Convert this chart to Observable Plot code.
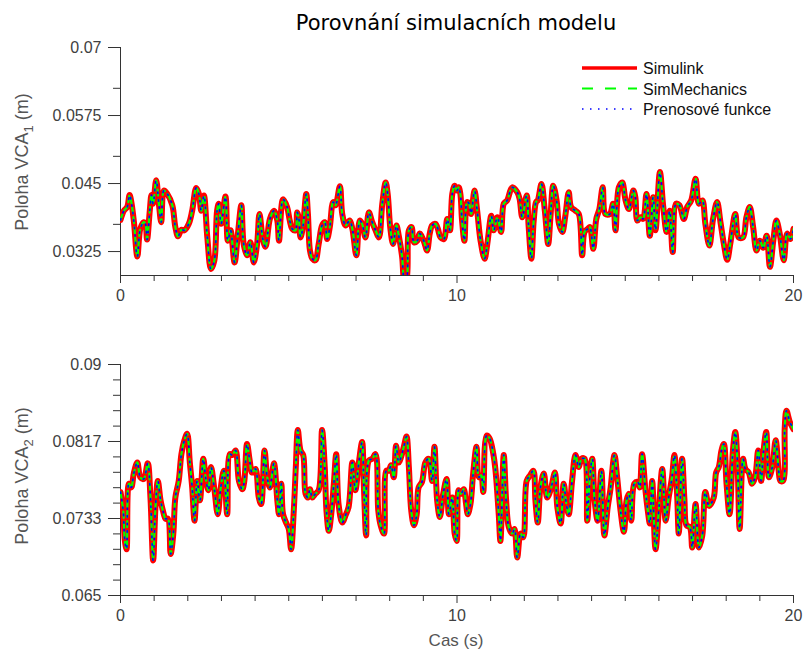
<!DOCTYPE html>
<html><head><meta charset="utf-8">
<script src="https://cdn.jsdelivr.net/npm/d3@7"></script>
<script src="https://cdn.jsdelivr.net/npm/@observablehq/plot@0.6"></script>
<style>
html,body{margin:0;padding:0;background:#fff;}
#wrap{position:relative;width:803px;height:653px;overflow:hidden;background:#fff;}
#wrap > svg{position:absolute;left:0;}
</style></head><body><div id="wrap"></div>
<script>
// ---- data -------------------------------------------------------------
const seriesNames = ["Simulink", "SimMechanics", "Prenosové funkce"];
const seriesColors = ["#ff0000", "#00ff00", "#0000ff"];

// VCA1 position (m) – the three models coincide
const timeTop = [0,0.10,0.20,0.27,0.33,0.40,0.50,0.59,0.69,0.74,0.79,0.87,0.92,0.97,1.06,1.14,1.21,1.29,1.39,1.54,1.63,1.71,1.81,1.90,2.03,2.13,2.25,2.33,2.40,2.48,2.58,2.69,2.79,2.87,2.92,2.99,3.12,3.19,3.27,3.39,3.49,3.59,3.66,3.76,3.86,3.96,4.06,4.13,4.23,4.31,4.44,4.56,4.66,4.71,4.83,4.95,5.03,5.10,5.20,5.25,5.30,5.35,5.42,5.52,5.57,5.63,5.70,5.79,5.89,5.99,6.07,6.14,6.22,6.32,6.39,6.52,6.59,6.69,6.81,6.89,7.01,7.11,7.18,7.28,7.38,7.48,7.58,7.68,7.78,7.88,7.94,8.02,8.10,8.20,8.27,8.37,8.44,8.50,8.57,8.65,8.72,8.82,8.89,9.01,9.11,9.19,9.26,9.36,9.43,9.51,9.61,9.71,9.79,9.86,9.93,10.00,10.05,10.10,10.15,10.22,10.30,10.36,10.42,10.52,10.60,10.70,10.82,10.90,11.02,11.09,11.20,11.31,11.39,11.49,11.64,11.79,11.86,11.94,12.07,12.13,12.21,12.28,12.35,12.40,12.51,12.61,12.71,12.78,12.86,12.96,13.03,13.13,13.22,13.32,13.39,13.52,13.62,13.72,13.79,13.89,13.95,14.05,14.14,14.23,14.33,14.41,14.54,14.64,14.71,14.81,14.91,15.01,15.11,15.24,15.30,15.36,15.45,15.53,15.63,15.73,15.83,15.90,16.03,16.13,16.23,16.32,16.41,16.51,16.61,16.74,16.84,16.96,17.09,17.19,17.29,17.38,17.50,17.61,17.73,17.83,17.93,18.03,18.12,18.27,18.37,18.50,18.60,18.70,18.80,18.90,19.00,19.10,19.20,19.30,19.40,19.49,19.59,19.71,19.81,19.91,20.00];
const vcaTop = [0.0383,0.0400,0.0407,0.0429,0.0413,0.0379,0.0316,0.0367,0.0379,0.0376,0.0347,0.0400,0.0429,0.0413,0.0456,0.0413,0.0379,0.0437,0.0431,0.0410,0.0370,0.0353,0.0365,0.0364,0.0376,0.0400,0.0442,0.0431,0.0400,0.0428,0.0351,0.0293,0.0309,0.0400,0.0413,0.0376,0.0426,0.0345,0.0364,0.0305,0.0358,0.0410,0.0339,0.0318,0.0342,0.0305,0.0339,0.0394,0.0348,0.0334,0.0385,0.0400,0.0382,0.0345,0.0421,0.0407,0.0382,0.0367,0.0364,0.0397,0.0385,0.0351,0.0370,0.0431,0.0394,0.0327,0.0312,0.0309,0.0339,0.0373,0.0379,0.0348,0.0370,0.0416,0.0410,0.0445,0.0394,0.0373,0.0382,0.0367,0.0318,0.0382,0.0376,0.0351,0.0397,0.0379,0.0364,0.0351,0.0413,0.0452,0.0431,0.0367,0.0339,0.0373,0.0354,0.0315,0.0272,0.0275,0.0364,0.0370,0.0342,0.0345,0.0358,0.0345,0.0327,0.0358,0.0373,0.0376,0.0367,0.0351,0.0348,0.0385,0.0364,0.0431,0.0446,0.0437,0.0443,0.0431,0.0382,0.0345,0.0416,0.0413,0.0394,0.0437,0.0400,0.0345,0.0312,0.0339,0.0391,0.0364,0.0388,0.0361,0.0413,0.0419,0.0443,0.0434,0.0422,0.0388,0.0428,0.0370,0.0312,0.0382,0.0416,0.0419,0.0449,0.0400,0.0339,0.0391,0.0446,0.0419,0.0376,0.0361,0.0391,0.0434,0.0407,0.0400,0.0394,0.0318,0.0361,0.0367,0.0370,0.0330,0.0385,0.0403,0.0443,0.0394,0.0394,0.0413,0.0364,0.0443,0.0452,0.0419,0.0403,0.0437,0.0425,0.0382,0.0388,0.0385,0.0431,0.0354,0.0425,0.0364,0.0471,0.0407,0.0361,0.0400,0.0324,0.0413,0.0410,0.0385,0.0407,0.0419,0.0459,0.0413,0.0419,0.0376,0.0336,0.0385,0.0416,0.0379,0.0339,0.0310,0.0339,0.0394,0.0351,0.0351,0.0388,0.0407,0.0370,0.0327,0.0345,0.0332,0.0354,0.0297,0.0345,0.0382,0.0358,0.0309,0.0358,0.0348,0.0367];

// VCA2 position (m)
const timeBottom = [0,0.08,0.13,0.18,0.25,0.32,0.40,0.50,0.59,0.69,0.81,0.89,0.97,1.04,1.11,1.19,1.26,1.34,1.41,1.49,1.57,1.63,1.73,1.81,1.90,1.98,2.06,2.13,2.20,2.28,2.36,2.46,2.53,2.61,2.69,2.79,2.89,2.97,3.07,3.17,3.25,3.32,3.42,3.52,3.62,3.68,3.76,3.84,3.91,4.01,4.11,4.18,4.28,4.36,4.44,4.56,4.66,4.71,4.78,4.83,4.93,5.00,5.07,5.15,5.21,5.27,5.35,5.43,5.50,5.57,5.63,5.70,5.79,5.89,5.99,6.07,6.12,6.19,6.26,6.34,6.41,6.48,6.59,6.69,6.78,6.89,6.98,7.08,7.18,7.23,7.30,7.38,7.48,7.58,7.66,7.73,7.83,7.90,7.97,8.04,8.12,8.19,8.27,8.34,8.42,8.50,8.57,8.64,8.72,8.80,8.86,8.96,9.06,9.16,9.26,9.33,9.41,9.49,9.59,9.69,9.76,9.86,9.93,9.99,10.05,10.12,10.20,10.27,10.32,10.40,10.48,10.58,10.65,10.72,10.78,10.88,10.97,11.08,11.14,11.24,11.29,11.39,11.46,11.54,11.64,11.71,11.79,11.89,11.97,12.07,12.17,12.27,12.33,12.40,12.48,12.58,12.68,12.78,12.91,12.98,13.08,13.17,13.25,13.32,13.42,13.52,13.62,13.70,13.79,13.87,13.95,14.02,14.09,14.18,14.29,14.38,14.48,14.56,14.68,14.76,14.86,14.96,15.04,15.11,15.18,15.27,15.37,15.43,15.50,15.60,15.67,15.73,15.80,15.90,16.00,16.10,16.20,16.29,16.39,16.46,16.54,16.59,16.69,16.76,16.82,16.92,16.99,17.09,17.19,17.29,17.38,17.49,17.63,17.70,17.78,17.86,17.93,18.01,18.10,18.20,18.27,18.34,18.40,18.50,18.57,18.67,18.77,18.86,18.95,19.04,19.10,19.19,19.27,19.37,19.47,19.56,19.61,19.69,19.74,19.79,19.89,20.00];
const vcaBottom = [0.0762,0.0742,0.0709,0.0700,0.0771,0.0767,0.0783,0.0794,0.0778,0.0776,0.0793,0.0756,0.0688,0.0746,0.0774,0.0753,0.0742,0.0733,0.0733,0.0695,0.0717,0.0756,0.0774,0.0803,0.0818,0.0825,0.0794,0.0767,0.0731,0.0774,0.0753,0.0798,0.0778,0.0764,0.0789,0.0765,0.0738,0.0764,0.0785,0.0738,0.0803,0.0802,0.0807,0.0774,0.0765,0.0774,0.0814,0.0796,0.0783,0.0787,0.0756,0.0749,0.0807,0.0778,0.0767,0.0793,0.0753,0.0738,0.0771,0.0738,0.0728,0.0722,0.0700,0.0742,0.0789,0.0829,0.0807,0.0802,0.0760,0.0756,0.0765,0.0756,0.0760,0.0764,0.0829,0.0789,0.0742,0.0720,0.0737,0.0771,0.0803,0.0749,0.0729,0.0737,0.0746,0.0794,0.0764,0.0793,0.0816,0.0771,0.0715,0.0796,0.0798,0.0803,0.0742,0.0726,0.0717,0.0785,0.0785,0.0791,0.0778,0.0812,0.0794,0.0800,0.0811,0.0822,0.0789,0.0742,0.0726,0.0737,0.0767,0.0773,0.0794,0.0798,0.0774,0.0811,0.0753,0.0735,0.0760,0.0776,0.0738,0.0756,0.0717,0.0709,0.0764,0.0760,0.0765,0.0749,0.0738,0.0749,0.0782,0.0811,0.0778,0.0780,0.0762,0.0823,0.0820,0.0803,0.0787,0.0738,0.0709,0.0802,0.0753,0.0724,0.0717,0.0722,0.0691,0.0717,0.0713,0.0774,0.0780,0.0785,0.0753,0.0729,0.0767,0.0782,0.0756,0.0764,0.0783,0.0746,0.0728,0.0771,0.0749,0.0738,0.0774,0.0802,0.0789,0.0798,0.0798,0.0731,0.0778,0.0798,0.0753,0.0731,0.0785,0.0715,0.0746,0.0765,0.0802,0.0778,0.0742,0.0719,0.0753,0.0760,0.0731,0.0771,0.0773,0.0767,0.0803,0.0764,0.0742,0.0728,0.0774,0.0700,0.0744,0.0787,0.0731,0.0756,0.0778,0.0802,0.0760,0.0717,0.0798,0.0753,0.0726,0.0724,0.0702,0.0749,0.0702,0.0715,0.0762,0.0747,0.0756,0.0783,0.0789,0.0807,0.0814,0.0771,0.0738,0.0807,0.0827,0.0789,0.0722,0.0798,0.0787,0.0783,0.0771,0.0778,0.0807,0.0774,0.0803,0.0827,0.0778,0.0789,0.0818,0.0785,0.0774,0.0774,0.0832,0.0850,0.0838,0.0830];

// axes
const xTicks = [0, 10, 20];
const xMinorTicks = [1,2,3,4,5,6,7,8,9,11,12,13,14,15,16,17,18,19];
const yDomainTop = [0.0281, 0.07];
const yTicksTop = [0.0325, 0.045, 0.0575, 0.07];
const yLabelsTop = ["0.0325", "0.045", "0.0575", "0.07"];
const yMinorTop = [0.0375, 0.05, 0.0625];
const yDomainBottom = [0.065, 0.09];
const yTicksBottom = [0.065, 0.073333, 0.081667, 0.09];
const yLabelsBottom = ["0.065", "0.0733", "0.0817", "0.09"];
const yMinorBottom = [0.066667, 0.068333, 0.07, 0.071667, 0.075, 0.076667, 0.078333, 0.08, 0.083333, 0.085, 0.086667, 0.088333];

const title = "Porovnání simulacních modelu";
const xLabel = "Cas (s)";

// ---- drawing ----------------------------------------------------------
const AX = "#333333", TXT = "#404040";
const lineStyles = [
  {strokeWidth: 6},
  {strokeWidth: 2.2, strokeDasharray: "6,4"},
  {strokeWidth: 1.6, strokeDasharray: "1.5,6"}
];

function panel(o) {
  const rows = o.time.map((t, i) => ({t, v: o.vals[i]}));
  return Plot.plot({
    width: 803, height: o.height,
    marginTop: o.mTop, marginBottom: o.mBottom, marginLeft: 120, marginRight: 10,
    style: {background: "transparent", fontFamily: "'Liberation Sans', Arial, sans-serif", fontSize: "16px", overflow: "visible"},
    x: {domain: [0, 20], label: null},
    y: {domain: o.yDomain, label: null},
    marks: [
      Plot.axisY({ticks: o.yMinor, tickSize: 7, tickFormat: () => "", stroke: AX, label: null}),
      Plot.axisY({ticks: o.yTicks, tickSize: 12, tickPadding: 7, tickFormat: d => o.yLabels[o.yTicks.indexOf(d)], stroke: AX, fill: TXT, fontSize: 16, label: null}),
      Plot.axisX({ticks: xMinorTicks, tickSize: 6, tickFormat: () => "", stroke: AX, label: null}),
      Plot.axisX({ticks: xTicks, tickSize: 8, tickPadding: 6, stroke: AX, fill: TXT, fontSize: 16, label: null}),
      Plot.ruleX([0], {stroke: AX}),
      Plot.ruleY([o.yDomain[0]], {stroke: AX}),
      ...seriesNames.map((s, k) => Plot.line(rows, {
        x: "t", y: "v", stroke: seriesColors[k], curve: "catmull-rom", clip: true, ...lineStyles[k]
      }))
    ]
  });
}

const wrap = document.getElementById("wrap");
const top1 = panel({time: timeTop, vals: vcaTop, yDomain: yDomainTop, yTicks: yTicksTop, yLabels: yLabelsTop, yMinor: yMinorTop, height: 310, mTop: 47, mBottom: 35});
top1.style.top = "0px";
wrap.appendChild(top1);
const bot = panel({time: timeBottom, vals: vcaBottom, yDomain: yDomainBottom, yTicks: yTicksBottom, yLabels: yLabelsBottom, yMinor: yMinorBottom, height: 323, mTop: 34, mBottom: 58});
bot.style.top = "330px";
wrap.appendChild(bot);

// overlay: title, axis labels, legend
const svg = d3.select(wrap).append("svg").attr("width", 803).attr("height", 653).style("top", "0px")
  .style("font-family", "'Liberation Sans', Arial, sans-serif");
svg.append("text").attr("x", 456).attr("y", 30).attr("text-anchor", "middle")
  .attr("font-family", "'DejaVu Sans', sans-serif").attr("font-size", 21)
  .attr("fill", "#000").text(title);
svg.append("text").attr("x", 456).attr("y", 646).attr("text-anchor", "middle")
  .attr("font-size", 17).attr("fill", "#555").text(xLabel);

function yLabel(cx, cy, sub) {
  const t = svg.append("text").attr("transform", `translate(${cx},${cy}) rotate(-90)`)
    .attr("text-anchor", "middle").attr("font-size", 18).attr("fill", "#555");
  t.append("tspan").text("Poloha VCA");
  t.append("tspan").attr("font-size", 13).attr("dy", 5).text(sub);
  t.append("tspan").attr("dy", -5).text(" (m)");
}
yLabel(28, 162, "1");
yLabel(28, 476, "2");

const leg = svg.append("g");
seriesNames.forEach((s, k) => {
  const y = 68 + k * 20.5;
  leg.append("line").attr("x1", 582).attr("x2", 637).attr("y1", y).attr("y2", y)
    .attr("stroke", seriesColors[k]).attr("stroke-width", k === 0 ? 3.5 : lineStyles[k].strokeWidth)
    .attr("stroke-dasharray", k === 1 ? "11,12" : (k === 2 ? "1.5,6.5" : null));
  leg.append("text").attr("x", 643).attr("y", y + 6).attr("font-size", 16).attr("fill", "#111").text(s);
});
</script></body></html>
